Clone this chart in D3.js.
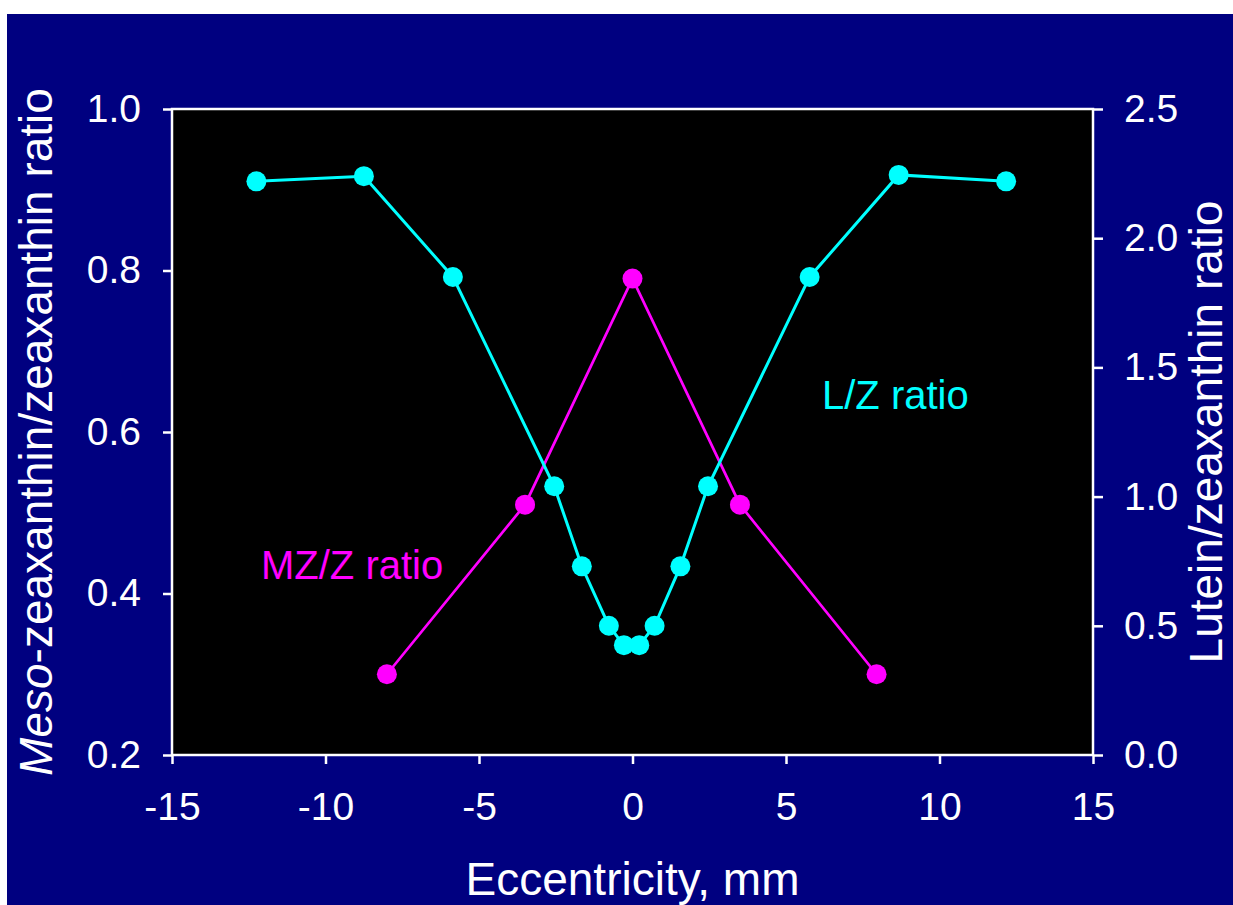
<!DOCTYPE html>
<html>
<head>
<meta charset="utf-8">
<script src="https://cdn.jsdelivr.net/npm/d3@7"></script>
<style>
  html, body { margin: 0; padding: 0; background: #ffffff; }
  svg { display: block; }
  text { font-family: "Liberation Sans", Arial, sans-serif; }
</style>
</head>
<body>
<svg id="chart" width="1233" height="905"></svg>
<script>
// ---- data ----
const xTicks = [-15, -10, -5, 0, 5, 10, 15];
const leftTicks = [0.2, 0.4, 0.6, 0.8, 1.0];
const rightTicks = [0.0, 0.5, 1.0, 1.5, 2.0, 2.5];

// L/Z ratio (right axis)
const lzX = [-12.25, -8.75, -5.85, -2.55, -1.65, -0.77, -0.28, 0.22, 0.72, 1.56, 2.46, 5.77, 8.67, 12.17];
const lzY = [2.22, 2.24, 1.85, 1.04, 0.73, 0.50, 0.425, 0.425, 0.50, 0.73, 1.04, 1.85, 2.245, 2.22];

// MZ/Z ratio (left axis)
const mzX = [-8.0, -3.5, 0.0, 3.5, 7.95];
const mzY = [0.30, 0.51, 0.79, 0.51, 0.30];

// ---- layout ----
const W = 1233, H = 905;
const plot = { left: 172, top: 109, right: 1093, bottom: 755 };
const svg = d3.select("#chart");

svg.append("rect").attr("x", 7).attr("y", 14).attr("width", W - 7).attr("height", H - 14).attr("fill", "#000080");

const x = d3.scaleLinear().domain([-15, 15]).range([plot.left, plot.right]);
const yL = d3.scaleLinear().domain([0.2, 1.0]).range([plot.bottom, plot.top]);
const yR = d3.scaleLinear().domain([0, 2.5]).range([plot.bottom, plot.top]);

svg.append("rect")
  .attr("x", plot.left).attr("y", plot.top)
  .attr("width", plot.right - plot.left).attr("height", plot.bottom - plot.top)
  .attr("fill", "#000000");

const fontSize = 39;

function styleAxis(g) {
  g.select(".domain").remove();
  g.selectAll(".tick line").attr("stroke", "#ffffff").attr("stroke-width", 2.5);
  g.selectAll(".tick text").attr("fill", "#ffffff").attr("font-size", fontSize)
    .attr("font-family", "'Liberation Sans', Arial, sans-serif");
}

svg.append("g").attr("transform", `translate(0,${plot.bottom})`)
  .call(d3.axisBottom(x).tickValues(xTicks).tickFormat(d3.format("d")).tickSize(9).tickPadding(28))
  .call(styleAxis);

svg.append("g").attr("transform", `translate(${plot.left},0)`)
  .call(d3.axisLeft(yL).tickValues(leftTicks).tickFormat(d3.format(".1f")).tickSize(9).tickPadding(22))
  .call(styleAxis);

svg.append("g").attr("transform", `translate(${plot.right},0)`)
  .call(d3.axisRight(yR).tickValues(rightTicks).tickFormat(d3.format(".1f")).tickSize(10).tickPadding(21))
  .call(styleAxis);

// fix hyphen minus
svg.selectAll(".tick text").text(function() { return d3.select(this).text().replace("\u2212", "-"); });

// frame
svg.append("rect")
  .attr("x", plot.left).attr("y", plot.top)
  .attr("width", plot.right - plot.left).attr("height", plot.bottom - plot.top)
  .attr("fill", "none").attr("stroke", "#ffffff").attr("stroke-width", 2.5);

// series
const mzData = mzX.map((v, i) => [v, mzY[i]]);
const lzData = lzX.map((v, i) => [v, lzY[i]]);

svg.append("path").datum(mzData)
  .attr("fill", "none").attr("stroke", "#ff00ff").attr("stroke-width", 2.7)
  .attr("d", d3.line().x(d => x(d[0])).y(d => yL(d[1])));
svg.append("g").selectAll("circle").data(mzData).join("circle")
  .attr("cx", d => x(d[0])).attr("cy", d => yL(d[1])).attr("r", 10).attr("fill", "#ff00ff");

svg.append("path").datum(lzData)
  .attr("fill", "none").attr("stroke", "#00ffff").attr("stroke-width", 3)
  .attr("d", d3.line().x(d => x(d[0])).y(d => yR(d[1])));
svg.append("g").selectAll("circle").data(lzData).join("circle")
  .attr("cx", d => x(d[0])).attr("cy", d => yR(d[1])).attr("r", 10).attr("fill", "#00ffff");

// series labels
svg.append("text").attr("x", 261).attr("y", 579).attr("fill", "#ff00ff").attr("font-size", 40).text("MZ/Z ratio");
svg.append("text").attr("x", 822).attr("y", 409).attr("fill", "#00ffff").attr("font-size", 40).text("L/Z ratio");

// axis titles
const titleSize = 46;
svg.append("text").attr("x", (plot.left + plot.right) / 2).attr("y", 895)
  .attr("text-anchor", "middle").attr("fill", "#ffffff").attr("font-size", titleSize)
  .text("Eccentricity, mm");

const lt = svg.append("text")
  .attr("transform", `translate(52,${(plot.top + plot.bottom) / 2}) rotate(-90)`)
  .attr("text-anchor", "middle").attr("fill", "#ffffff").attr("font-size", titleSize);
lt.append("tspan").attr("font-style", "italic").text("Meso");
lt.append("tspan").text("-zeaxanthin/zeaxanthin ratio");

svg.append("text")
  .attr("transform", `translate(1222,${(plot.top + plot.bottom) / 2}) rotate(-90)`)
  .attr("text-anchor", "middle").attr("fill", "#ffffff").attr("font-size", titleSize)
  .text("Lutein/zeaxanthin ratio");
</script>
</body>
</html>
